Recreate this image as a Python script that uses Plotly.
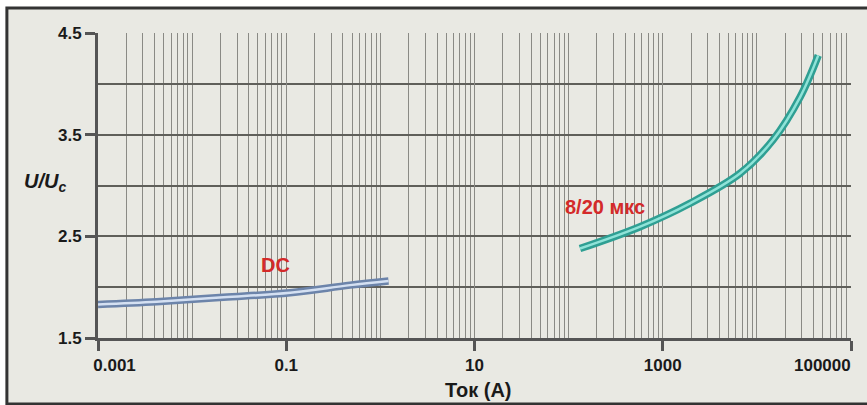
import numpy as np
import plotly.graph_objects as go

# ---- data ----
dc_current = [0.001, 0.0042, 0.0215, 0.11, 0.476, 1.22]
dc_ratio = [1.83, 1.857, 1.90, 1.945, 2.02, 2.06]

imp_current = [132, 575, 1950, 6650, 14900, 28800, 44900]
imp_ratio = [2.38, 2.595, 2.825, 3.12, 3.45, 3.87, 4.28]

x_tick_vals = [0.001, 0.1, 10, 1000, 100000]
x_tick_text = ["0.001", "0.1", "10", "1000", "100000"]
y_tick_vals = [1.5, 2.5, 3.5, 4.5]
y_tick_text = ["1.5", "2.5", "3.5", "4.5"]
y_minor_vals = [2.0, 3.0, 4.0]

x_minor_vals = []
for e in range(-3, 5):
    for m in range(1, 10):
        v = m * 10.0 ** e
        if v < 100000 and not any(abs(v - t) / t < 1e-9 for t in x_tick_vals):
            x_minor_vals.append(v)

NB = "\u00a0"
# first label sits right of its tick, last label is drawn right-aligned to its tick
x_tick_disp = list(x_tick_text)
x_tick_disp[0] = NB * 7 + x_tick_disp[0]
x_tick_disp[-1] = ""

FONT = "Liberation Sans"
tick_font = dict(family=FONT, size=17, color="#1a1a1a", weight="bold")

fig = go.Figure()

def tube(x, y, dark, light, name):
    fig.add_trace(go.Scatter(x=x, y=y, mode="lines", name=name,
                             line=dict(color=dark, width=7.5, shape="spline"),
                             showlegend=False, hoverinfo="skip"))
    fig.add_trace(go.Scatter(x=x, y=y, mode="lines", name=name,
                             line=dict(color=light, width=2.5, shape="spline"),
                             showlegend=False, hoverinfo="skip"))

tube(dc_current, dc_ratio, "#6c84aa", "#d4e0f2", "DC")
tube(imp_current, imp_ratio, "#2f9f93", "#8fe3d8", "8/20")

fig.update_layout(
    width=867, height=405,
    margin=dict(l=98, r=16, t=33, b=67),
    paper_bgcolor="white",
    plot_bgcolor="rgba(0,0,0,0)",
    showlegend=False,
)

fig.update_xaxes(
    type="log", range=[-3, 5],
    tickmode="array", tickvals=x_tick_vals, ticktext=x_tick_disp,
    ticks="outside", ticklen=10, tickwidth=3, tickcolor="#555555",
    tickfont=tick_font,
    showgrid=True, gridcolor="#8a8a85", gridwidth=1.3,
    showline=True, linecolor="#555555", linewidth=3,
    zeroline=False, automargin=False,
    minor=dict(tickmode="array", tickvals=x_minor_vals, showgrid=True,
               gridcolor="#8a8a85", gridwidth=1.3, ticks=""),
)
fig.update_yaxes(
    range=[1.5, 4.5],
    tickmode="array", tickvals=y_tick_vals, ticktext=y_tick_text,
    ticks="outside", ticklen=10, tickwidth=3, tickcolor="#555555",
    tickfont=tick_font,
    showgrid=True, gridcolor="#5f5f5a", gridwidth=1.8,
    showline=True, linecolor="#555555", linewidth=3,
    zeroline=False, automargin=False,
    minor=dict(tickmode="array", tickvals=y_minor_vals, showgrid=True,
               gridcolor="#5f5f5a", gridwidth=1.8, ticks=""),
)

# image frame and background
fig.add_shape(type="rect", xref="paper", yref="paper",
              x0=-0.121, x1=1.2, y0=-0.216, y1=1.082,
              line=dict(color="#333333", width=3), fillcolor="#e9e9e3",
              layer="below")

# last x tick label, right-aligned to its tick
fig.add_annotation(x=np.log10(x_tick_vals[-1]), y=(338 - 365) / 305,
                   xref="x", yref="paper", text=x_tick_text[-1], showarrow=False,
                   xanchor="right", yanchor="middle", xshift=2, font=tick_font)

label_font = dict(family=FONT, size=20, color="#d42a2a", weight="bold")
fig.add_annotation(x=np.log10(0.076), y=2.218, xref="x", yref="y",
                   text="DC", showarrow=False, font=label_font,
                   xanchor="center", yanchor="middle")
fig.add_annotation(x=np.log10(244), y=2.79, xref="x", yref="y",
                   text="8/20 мкс", showarrow=False, font=label_font,
                   xanchor="center", yanchor="middle")
fig.add_annotation(x=(478 - 98) / 753, y=(338 - 390) / 305, xref="paper", yref="paper",
                   text="Ток (А)", showarrow=False,
                   xanchor="center", yanchor="middle",
                   font=dict(family=FONT, size=20, color="#1a1a1a", weight="bold"))
fig.add_annotation(x=(45 - 98) / 753, y=(338 - 182) / 305, xref="paper", yref="paper",
                   text="<b><i>U/U<sub>c</sub></i></b>", showarrow=False,
                   xanchor="center", yanchor="middle",
                   font=dict(family=FONT, size=20, color="#1a1a1a"))

fig.write_html("out.html", config={"displayModeBar": False},
               post_script="document.body.style.margin='0';")
